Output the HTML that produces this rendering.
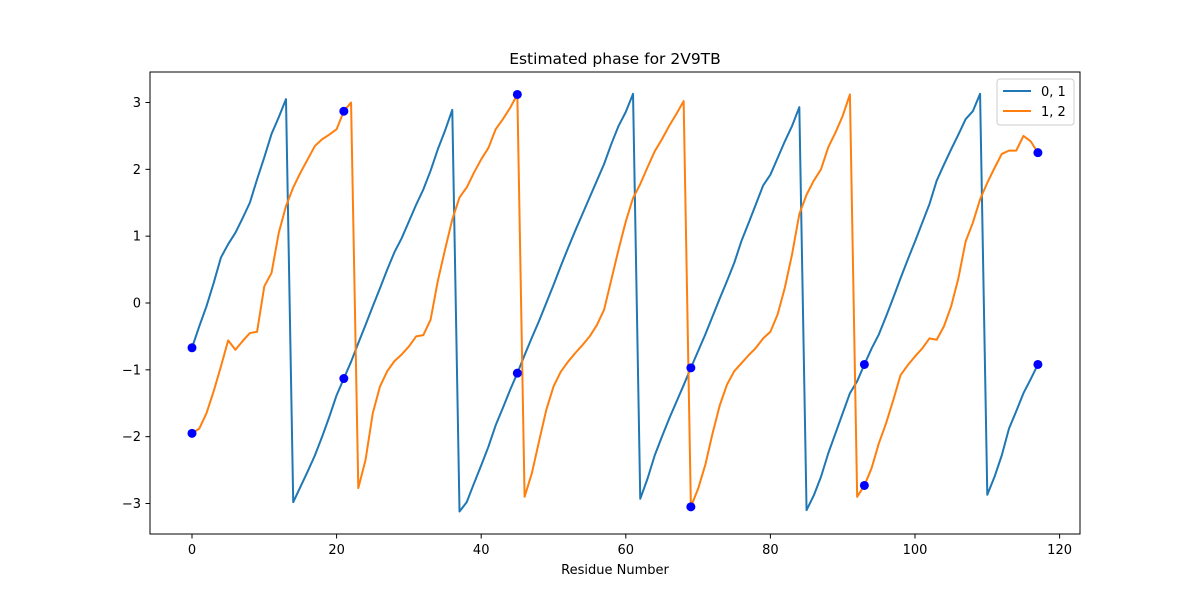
<!DOCTYPE html>
<html><head><meta charset="utf-8"><style>
html,body{margin:0;padding:0;background:#fff;}
svg text{font-family:"DejaVu Sans","Liberation Sans",sans-serif;}
</style></head><body>
<svg id="chart" width="1200" height="600" xmlns="http://www.w3.org/2000/svg">
<rect width="1200" height="600" fill="#fff"/>
<text x="615" y="64" font-size="15.5" text-anchor="middle">Estimated phase for 2V9TB</text>
<g id="series"></g>
<rect x="150" y="72" width="930" height="462" fill="none" stroke="#000" stroke-width="1"/>
<g id="ticks"></g>
<text x="615" y="574" font-size="13" text-anchor="middle">Residue Number</text>
<g>
<rect x="997" y="79" width="77" height="46" rx="3" fill="#fff" stroke="#ccc" fill-opacity="0.8"/>
<line x1="1003" y1="91" x2="1031" y2="91" stroke="#1f77b4" stroke-width="2"/>
<text x="1041" y="96" font-size="13">0, 1</text>
<line x1="1003" y1="111" x2="1031" y2="111" stroke="#ff7f0e" stroke-width="2"/>
<text x="1041" y="116" font-size="13">1, 2</text>
</g>
</svg>
<script>
const series01 = [-0.67,-0.35,-0.05,0.3,0.68,0.88,1.05,1.27,1.5,1.85,2.18,2.53,2.78,3.05,-2.98,-2.75,-2.52,-2.28,-2.0,-1.7,-1.38,-1.13,-0.88,-0.6,-0.33,-0.05,0.22,0.5,0.76,0.97,1.22,1.47,1.7,1.98,2.3,2.58,2.89,-3.12,-2.98,-2.7,-2.43,-2.15,-1.83,-1.57,-1.3,-1.05,-0.78,-0.52,-0.27,0.0,0.27,0.55,0.82,1.08,1.33,1.58,1.83,2.08,2.38,2.65,2.86,3.13,-2.93,-2.63,-2.28,-2.0,-1.73,-1.48,-1.23,-0.97,-0.72,-0.47,-0.2,0.07,0.33,0.6,0.93,1.2,1.48,1.76,1.92,2.17,2.42,2.65,2.93,-3.1,-2.88,-2.6,-2.25,-1.95,-1.65,-1.35,-1.17,-0.92,-0.68,-0.47,-0.2,0.08,0.37,0.65,0.92,1.2,1.48,1.83,2.07,2.3,2.52,2.75,2.87,3.13,-2.87,-2.6,-2.28,-1.88,-1.62,-1.35,-1.14,-0.92];
const series12 = [-1.95,-1.88,-1.65,-1.32,-0.95,-0.56,-0.7,-0.57,-0.45,-0.43,0.25,0.45,1.05,1.45,1.73,1.95,2.15,2.35,2.45,2.52,2.6,2.87,3.0,-2.77,-2.35,-1.65,-1.25,-1.02,-0.87,-0.77,-0.65,-0.5,-0.48,-0.25,0.33,0.8,1.25,1.58,1.73,1.95,2.15,2.32,2.6,2.75,2.92,3.12,-2.9,-2.55,-2.07,-1.6,-1.25,-1.03,-0.88,-0.75,-0.63,-0.5,-0.33,-0.1,0.35,0.8,1.22,1.57,1.78,2.03,2.27,2.45,2.65,2.83,3.02,-3.05,-2.78,-2.42,-1.95,-1.53,-1.22,-1.02,-0.9,-0.78,-0.67,-0.53,-0.43,-0.17,0.23,0.73,1.33,1.62,1.83,2.0,2.33,2.55,2.8,3.12,-2.9,-2.73,-2.47,-2.1,-1.8,-1.45,-1.08,-0.93,-0.8,-0.68,-0.53,-0.55,-0.35,-0.05,0.37,0.92,1.2,1.55,1.8,2.02,2.23,2.28,2.28,2.5,2.42,2.25];
const markerIdx = [0,21,45,69,93,117];
const xTicks = [0,20,40,60,80,100,120];
const yTicks = [-3,-2,-1,0,1,2,3];

const NS = "http://www.w3.org/2000/svg";
function xs(v){return 192 + v*7.23;}
function ys(v){return 303 - v*66.83;}
function mk(tag, attrs, parent){const e=document.createElementNS(NS,tag);for(const k in attrs)e.setAttribute(k,attrs[k]);parent.appendChild(e);return e;}

const ticks = document.getElementById('ticks');
xTicks.forEach(t=>{
  const l = mk('line',{x1:xs(t),x2:xs(t),y1:534,y2:538.5,stroke:'#000'},ticks);
  
  
  const tx = mk('text',{x:xs(t),y:554,'font-size':13,'text-anchor':'middle'},ticks);
  tx.textContent = t;
  
  
});
yTicks.forEach(t=>{
  const l = mk('line',{x1:145.5,x2:150,y1:ys(t),y2:ys(t),stroke:'#000'},ticks);
  
  
  const tx = mk('text',{x:141,y:ys(t)+4.5,'font-size':13,'text-anchor':'end'},ticks);
  tx.textContent = t < 0 ? '\u2212' + Math.abs(t) : t;
  
  
});

const sg = document.getElementById('series');
function drawLine(arr, color, name){
  const d = arr.map((v,i)=>(i?'L':'M')+xs(i).toFixed(2)+' '+ys(v).toFixed(2)).join(' ');
  const p = mk('path',{d:d,fill:'none',stroke:color,'stroke-width':2,'stroke-linejoin':'round'},sg);
  
  
}
drawLine(series01,'#1f77b4','line-0-1');
drawLine(series12,'#ff7f0e','line-1-2');
[series01, series12].forEach(arr=>{
  markerIdx.forEach(i=>{
    const c = mk('circle',{cx:xs(i),cy:ys(arr[i]),r:4.5,fill:'#0000ff'},sg);
    
    
  });
});
</script>
</body></html>
